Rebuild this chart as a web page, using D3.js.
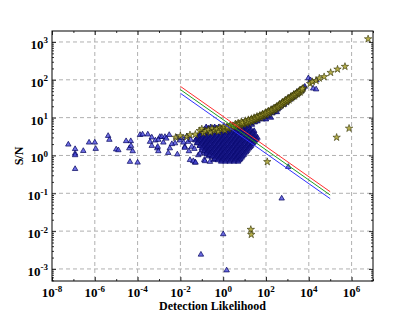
<!DOCTYPE html>
<html>
<head>
<meta charset="utf-8">
<script src="https://cdnjs.cloudflare.com/ajax/libs/d3/7.8.5/d3.min.js"></script>
<style>
body { margin: 0; background: #fff; }
text { font-family: "Liberation Serif", "DejaVu Serif", serif; font-weight: bold; fill: #000; }
</style>
</head>
<body>
<div id="chart"></div>
<script>
// tick labels
const xMajor = [1e-8, 1e-6, 1e-4, 1e-2, 1e0, 1e2, 1e4, 1e6];
const xMinor = [1e-7, 1e-5, 1e-3, 1e-1, 1e1, 1e3, 1e5, 1e7];
const yMajor = [1e-3, 1e-2, 1e-1, 1e0, 1e1, 1e2, 1e3];

// reference lines [detection likelihood] -> S/N
const lineDL = [1e-2, 1e5];
const redSN = [67, 0.11];
const greenSN = [55, 0.09];
const blueLineSN = [44, 0.072];

// sparse triangles [DL, S/N]
const triSparse = [
  [5.8e-8, 1.95], [1.2e-7, 1.48], [1.2e-7, 1.12], [1.2e-7, 1.02], [1.2e-7, 0.44],
  [2.9e-7, 1.32], [5.4e-7, 2.2], [1e-6, 2.2], [1.1e-6, 1.5], [4.2e-6, 3.3],
  [4.8e-6, 2.6], [1e-5, 1.45], [1.26e-5, 1.38], [2.9e-5, 2.4], [4.1e-5, 1.55],
  [4.8e-5, 2.4], [4.9e-5, 1.8], [5.9e-5, 1.3], [4.4e-5, 0.68], [1e-4, 0.65],
  [1.3e-4, 3.5], [1.7e-4, 3.6], [3e-4, 3.6], [4.6e-4, 3.0], [3.8e-4, 2.3],
  [4.6e-4, 1.8], [6.8e-4, 2.5], [8.3e-4, 1.55], [9.3e-4, 1.3], [1.1e-3, 3.1],
  [1.35e-3, 3.1], [9.3e-4, 2.6], [1.9e-3, 3.1], [3e-3, 3.5], [8.7e-4, 1.7],
  [1.6e-3, 2.2], [3.2e-3, 1.55], [2.7e-3, 1.17], [7.2e-3, 1.07], [5.6e-3, 2.1],
  [9.5e-3, 2.5], [1.6e-2, 1.7], [2.8e-2, 0.76], [4.8e-2, 0.65], [6.9e-2, 1.02],
  [0.13, 0.76], [0.2, 0.95], [0.24, 0.68], [0.42, 1.02], [3.4e-2, 1.7],
  [2.3e-2, 2.3], [5.8e-2, 2.1], [0.1, 1.38], [4e-2, 0.71], [5.1e-2, 0.65],
  [0.14, 0.71], [0.29, 0.93], [0.35, 0.76], [0.17, 1.07], [1.6e-2, 1.6],
  [8.3e-2, 1.12], [2.2e-3, 2.8], [4e-3, 2.0], [6.5e-3, 3.0], [1.2e-2, 2.9],
  [1.4e-2, 2.2], [2e-2, 3.2], [2.5e-2, 1.3], [3e-2, 2.6], [4.5e-2, 1.5],
  [7e-2, 2.9], [8e-2, 1.8], [0.11, 2.4], [0.13, 1.2], [0.15, 3.4],
  [0.18, 1.6], [0.22, 2.7], [0.26, 1.3], [0.3, 3.6],
  [1, 0.0083], [0.091, 0.0024], [1.45, 9.2e-4], [540, 0.073], [1100, 0.5],
  [9.5e3, 110], [1.2e4, 98], [1.6e4, 59], [2.2e4, 56], [2.3e4, 98]
];

// dense triangle cloud, one S/N level per row
const triRows = [
  [5.6, [0.16, 0.26, 0.4, 0.62, 1.05, 1.6, 2.4, 4.1, 6.2, 10]],
  [5.2, [0.2, 0.33, 0.5, 0.8, 1.3, 2, 3.2, 5, 8, 13]],
  [4.8, [0.13, 0.21, 0.32, 0.52, 0.8, 1.25, 2.1, 3.2, 5.1, 7.8, 12.5, 20]],
  [4.45, [0.12, 0.19, 0.29, 0.46, 0.72, 1.15, 1.8, 2.9, 4.6, 7.2, 11, 18, 28]],
  [4.1, [0.1, 0.17, 0.25, 0.41, 0.63, 1, 1.6, 2.6, 4, 6.4, 10, 16, 25]],
  [3.8, [0.09, 0.145, 0.23, 0.36, 0.57, 0.9, 1.45, 2.3, 3.6, 5.7, 9, 14.5, 23]],
  [3.5, [0.08, 0.13, 0.2, 0.33, 0.5, 0.78, 1.3, 2, 3.2, 5, 8, 12.6, 20, 32]],
  [3.2, [0.07, 0.115, 0.18, 0.29, 0.45, 0.72, 1.15, 1.8, 2.9, 4.5, 7.2, 11.5, 18, 29]],
  [2.95, [0.063, 0.1, 0.16, 0.26, 0.4, 0.64, 1, 1.6, 2.5, 4, 6.3, 10, 16, 26, 40]],
  [2.7, [0.056, 0.09, 0.145, 0.23, 0.36, 0.57, 0.9, 1.45, 2.3, 3.6, 5.7, 9, 14.5, 23, 36]],
  [2.5, [0.05, 0.08, 0.13, 0.2, 0.32, 0.5, 0.8, 1.26, 2, 3.2, 5, 8, 12.6, 20, 32]],
  [2.3, [0.07, 0.115, 0.18, 0.29, 0.45, 0.72, 1.15, 1.8, 2.9, 4.5, 7.2, 11.5, 18, 29]],
  [2.15, [0.063, 0.1, 0.16, 0.25, 0.4, 0.63, 1, 1.6, 2.5, 4, 6.3, 10, 16, 25]],
  [1.97, [0.09, 0.145, 0.23, 0.36, 0.57, 0.9, 1.45, 2.3, 3.6, 5.7, 9, 14.5, 23]],
  [1.8, [0.08, 0.13, 0.2, 0.32, 0.5, 0.8, 1.26, 2, 3.2, 5, 7.9, 12.6, 20]],
  [1.67, [0.115, 0.18, 0.29, 0.45, 0.72, 1.15, 1.8, 2.9, 4.5, 7.2, 11.5, 18]],
  [1.55, [0.1, 0.16, 0.25, 0.4, 0.63, 1, 1.6, 2.5, 4, 6.3, 10, 16]],
  [1.43, [0.145, 0.23, 0.36, 0.57, 0.9, 1.45, 2.3, 3.6, 5.7, 9, 14]],
  [1.32, [0.13, 0.2, 0.32, 0.5, 0.8, 1.26, 2, 3.2, 5, 7.9, 12.6]],
  [1.22, [0.18, 0.29, 0.45, 0.72, 1.15, 1.8, 2.9, 4.5, 7.2, 11.5]],
  [1.12, [0.16, 0.25, 0.4, 0.63, 1, 1.6, 2.5, 4, 6.3, 10]],
  [1.03, [0.23, 0.36, 0.57, 0.9, 1.45, 2.3, 3.6, 5.7, 9]],
  [0.95, [0.32, 0.5, 0.8, 1.26, 2, 3.2, 5, 7.9]],
  [0.88, [0.45, 0.72, 1.15, 1.8, 2.9, 4.5, 7.2]],
  [0.81, [0.4, 0.63, 1, 1.6, 2.5, 4, 6.3]],
  [0.75, [0.57, 0.9, 1.45, 2.3, 3.6, 5.7]],
  [0.69, [0.8, 1.26, 2, 3.2, 5]]
];

// triangles along the upper branch
const triBand = [
  [10, 5.5], [12, 7], [15, 6], [18, 8], [22, 6.5], [25, 9], [30, 7.5], [35, 10],
  [40, 8], [50, 9.5], [60, 11], [70, 9], [80, 12], [100, 9], [100, 13], [130, 11],
  [150, 14], [170, 10], [200, 13], [200, 17], [250, 15], [300, 19], [320, 14],
  [400, 18], [450, 23], [500, 20], [600, 25], [700, 22], [800, 28], [1000, 27],
  [1100, 33], [1300, 30], [1500, 36], [1800, 34], [2000, 42], [2400, 40],
  [2800, 48], [3300, 45], [4000, 55], [4500, 50], [5500, 60], [6500, 66],
  [13, 6.2], [20, 7.2], [28, 8.4], [45, 9], [55, 10.5], [90, 10.5], [120, 12.5],
  [230, 14], [350, 16.5], [550, 22], [900, 25], [1200, 31], [1600, 33],
  [2200, 38], [3000, 43], [3700, 50], [5000, 56]
];

// stars [DL, S/N]
const stars = [
  [6e-3, 3.0], [1e-2, 3.3], [2e-2, 3.1], [2.8e-2, 3.5], [5e-2, 3.6], [8e-2, 4.5],
  [0.1, 5], [0.12, 3.9], [0.15, 4.4], [0.2, 4.8], [0.25, 4.1], [0.3, 5.2],
  [0.4, 4.5], [0.5, 5], [0.6, 4.3], [0.7, 5.4], [0.85, 4.8], [1, 5.2],
  [1.2, 4.6], [1.4, 5.6], [1.7, 5.1], [2, 5.8], [2.4, 5.3], [2.8, 6.1],
  [3.3, 5.6], [4, 6.3], [4.7, 5.9], [5.5, 6.7], [6.5, 6.2], [7.5, 7.1],
  [9, 6.6], [10, 7.5], [12, 7], [14, 8], [16, 7.4], [19, 8.5], [22, 8],
  [26, 9.1], [30, 8.6], [35, 9.8], [40, 9.3], [48, 10.5], [55, 10], [65, 11.5],
  [75, 11], [90, 12.5], [100, 12], [120, 13.8], [140, 13], [160, 15], [190, 14.5],
  [220, 16.5], [260, 16], [300, 18.5], [350, 18], [400, 21], [480, 20.5],
  [550, 24], [650, 23], [750, 27], [900, 26], [1000, 30], [1200, 29], [1400, 34],
  [1600, 33], [1900, 38], [2200, 37], [2600, 43], [3000, 42], [3500, 48],
  [4000, 47], [4800, 55], [5500, 60],
  [1.1, 5.9], [1.6, 5.5], [2.2, 6.3], [3, 5.9], [3.7, 6.8], [4.4, 6.5], [5, 7.2],
  [6, 6.9], [7, 7.7], [8.3, 7.2], [11, 8.3], [13, 7.6], [15, 8.8], [18, 8.1],
  [21, 9.4], [24, 8.7], [28, 10], [33, 9.4], [38, 10.8], [44, 10.2], [52, 11.5],
  [60, 11], [70, 12.5], [82, 12], [95, 13.6], [110, 13], [130, 15], [150, 14.2],
  [175, 16.3], [205, 15.6], [240, 18], [280, 17.4], [330, 20], [380, 19.5],
  [440, 22.5], [520, 22], [600, 25.5], [700, 25], [820, 29], [950, 28],
  [1100, 32.5], [1300, 32], [1500, 36.5], [1750, 36], [2000, 41], [2400, 40.5],
  [2800, 46], [3300, 46], [3800, 52], [4400, 52], [5000, 58],
  [1.15e4, 79], [1.45e4, 89], [2.2e4, 95], [3.1e4, 110], [5.2e4, 120],
  [1.05e5, 155], [2.2e5, 190], [4.9e5, 224], [5.9e6, 1200],
  [19.5, 0.011], [20.4, 0.0081], [115, 0.68], [2e5, 3.0], [7.6e5, 5.2]
];

const W = 415, H = 312;
const svg = d3.select("#chart").append("svg").attr("width", W).attr("height", H);
svg.append("rect").attr("width", W).attr("height", H).attr("fill", "#fff");

const x = d3.scaleLog().domain([1e-8, 1e7]).range([52, 373]);
const y = d3.scaleLog().domain([4.8e-4, 1950]).range([281, 31]);
const [x0, x1] = x.range(), [y0, y1] = y.range();

svg.append("clipPath").attr("id", "plot")
  .append("rect").attr("x", x0).attr("y", y1).attr("width", x1 - x0).attr("height", y0 - y1);

// grid
const grid = svg.append("g").attr("stroke", "#b0b0b0").attr("stroke-dasharray", "4,3").attr("stroke-width", 1);
grid.selectAll(".gx").data(xMajor.slice(1)).enter().append("line")
  .attr("x1", d => x(d)).attr("x2", d => x(d)).attr("y1", y1).attr("y2", y0);
grid.selectAll(".gy").data(yMajor).enter().append("line")
  .attr("y1", d => y(d)).attr("y2", d => y(d)).attr("x1", x0).attr("x2", x1);

// points
const pts = svg.append("g").attr("clip-path", "url(#plot)");
const tri = d3.symbol().type(d3.symbolTriangle).size(13);
const triDense = triBand.concat(triRows.flatMap(r => r[1].map(v => [v, r[0]])));

// overlapping translucent markers get darker where they pile up
pts.selectAll(".tri").data(triSparse.concat(triDense)).enter().append("path")
  .attr("d", tri)
  .attr("transform", d => "translate(" + x(d[0]) + "," + y(d[1]) + ")")
  .attr("fill", "#4848dc").attr("fill-opacity", 0.8)
  .attr("stroke", "#00005a").attr("stroke-width", 0.7);
pts.selectAll(".triShade").data(triDense).enter().append("path")
  .attr("d", tri)
  .attr("transform", d => "translate(" + x(d[0]) + "," + y(d[1]) + ")")
  .attr("fill", "#10107a").attr("fill-opacity", 0.55);

const star = d3.symbol().type(d3.symbolStar).size(17);
pts.selectAll(".star").data(stars).enter().append("path")
  .attr("d", star)
  .attr("transform", d => "translate(" + x(d[0]) + "," + y(d[1]) + ")")
  .attr("fill", "#aea638").attr("fill-opacity", 0.9)
  .attr("stroke", "#333300").attr("stroke-width", 0.6);

// lines
const line = d3.line().x(d => x(d[0])).y(d => y(d[1]));
[[redSN, "#ff3030"], [greenSN, "#22a022"], [blueLineSN, "#3030ff"]].forEach(([vals, col]) => {
  pts.append("path").datum(lineDL.map((v, i) => [v, vals[i]]))
    .attr("d", line).attr("fill", "none").attr("stroke", col).attr("stroke-width", 1);
});

// ticks (inward)
function ticks(axis, vals, size, tr) {
  const g = svg.append("g").attr("transform", tr)
    .call(axis.tickValues(vals).tickSize(-size).tickSizeOuter(0).tickFormat(""));
  g.select(".domain").remove();
  g.selectAll("line").attr("stroke", "#000").attr("stroke-width", 0.8);
}
const yMinor = y.ticks().filter(v => !yMajor.includes(v));
ticks(d3.axisBottom(x), xMajor, 4, "translate(0," + y0 + ")");
ticks(d3.axisTop(x), xMajor, 4, "translate(0," + y1 + ")");
ticks(d3.axisBottom(x), xMinor, 2, "translate(0," + y0 + ")");
ticks(d3.axisTop(x), xMinor, 2, "translate(0," + y1 + ")");
ticks(d3.axisLeft(y), yMajor, 4, "translate(" + x0 + ",0)");
ticks(d3.axisRight(y), yMajor, 4, "translate(" + x1 + ",0)");
ticks(d3.axisLeft(y), yMinor, 2, "translate(" + x0 + ",0)");
ticks(d3.axisRight(y), yMinor, 2, "translate(" + x1 + ",0)");

// frame
svg.append("rect").attr("x", x0).attr("y", y1).attr("width", x1 - x0).attr("height", y0 - y1)
  .attr("fill", "none").attr("stroke", "#000").attr("stroke-width", 1);

// tick labels
function powLabel(sel, v) {
  const e = Math.round(Math.log10(v));
  sel.append("tspan").text("10");
  sel.append("tspan").attr("dy", -5.5).attr("font-size", 9).text(e);
}
svg.selectAll(".xl").data(xMajor).enter().append("text")
  .attr("x", d => x(d)).attr("y", 297).attr("text-anchor", "middle").attr("font-size", 13)
  .each(function (d) { powLabel(d3.select(this), d); });
svg.selectAll(".yl").data(yMajor).enter().append("text")
  .attr("x", 48).attr("y", d => y(d) + 7).attr("text-anchor", "end").attr("font-size", 13)
  .each(function (d) { powLabel(d3.select(this), d); });

// axis titles
svg.append("text").attr("x", (x0 + x1) / 2).attr("y", 310).attr("text-anchor", "middle")
  .attr("font-size", 12).text("Detection Likelihood");
svg.append("text").attr("transform", "translate(23," + (y0 + y1) / 2 + ") rotate(-90)")
  .attr("text-anchor", "middle").attr("font-size", 12).text("S/N");
</script>
</body>
</html>
